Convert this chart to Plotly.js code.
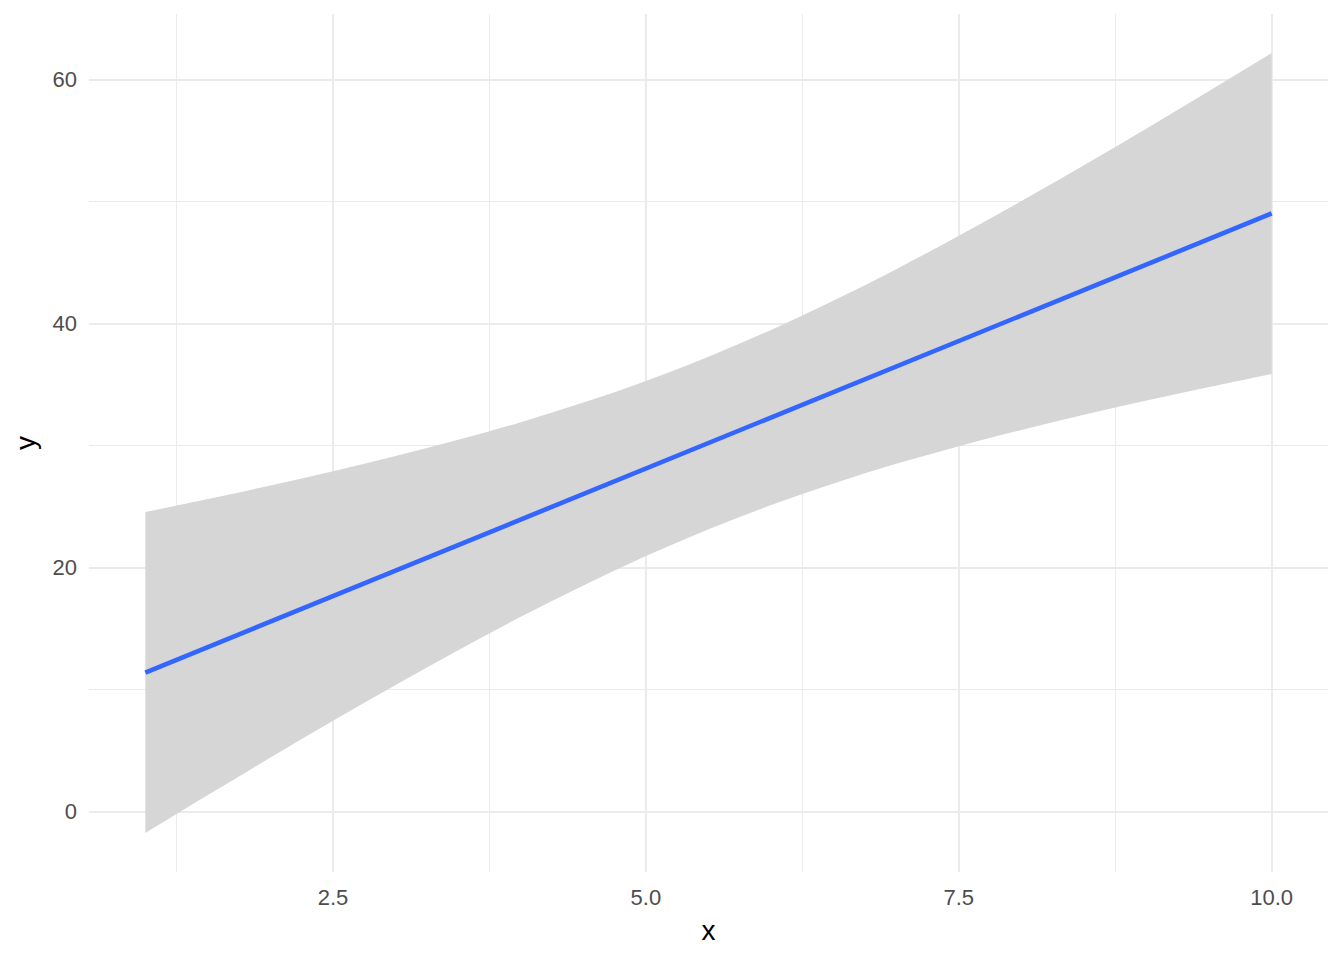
<!DOCTYPE html>
<html>
<head>
<meta charset="utf-8">
<script src="https://cdn.plot.ly/plotly-3.0.1.min.js"></script>
<style>
  html, body { margin: 0; padding: 0; background: #ffffff; }
  #chart { width: 1344px; height: 960px; }
</style>
</head>
<body>
<div id="chart"></div>
<script>
// fitted line and confidence band
const xs = [1, 1.5, 2, 2.5, 3, 3.5, 4, 4.5, 5, 5.5, 6, 6.5, 7, 7.5, 8, 8.5, 9, 9.5, 10];
const fit = [11.40, 13.49, 15.58, 17.67, 19.76, 21.85, 23.94, 26.03, 28.12, 30.21,
             32.30, 34.39, 36.48, 38.57, 40.66, 42.75, 44.84, 46.93, 49.02];
const lower = [-1.75, 1.36, 4.43, 7.44, 10.38, 13.23, 15.96, 18.54, 20.94, 23.14,
               25.12, 26.90, 28.50, 29.95, 31.28, 32.52, 33.69, 34.80, 35.87];
const upper = [24.55, 25.62, 26.73, 27.90, 29.14, 30.47, 31.92, 33.52, 35.30, 37.28,
               39.48, 41.88, 44.46, 47.19, 50.04, 52.98, 55.99, 59.06, 62.17];

const xTicks = [2.5, 5.0, 7.5, 10.0];
const xTickText = ["2.5", "5.0", "7.5", "10.0"];
const yTicks = [0, 20, 40, 60];

const traces = [
  {
    x: xs, y: lower, type: 'scatter', mode: 'lines',
    line: {width: 0, color: 'rgba(0,0,0,0)', shape: 'spline'},
    showlegend: false, hoverinfo: 'skip'
  },
  {
    x: xs, y: upper, type: 'scatter', mode: 'lines',
    fill: 'tonexty', fillcolor: '#D6D6D6',
    line: {width: 0, color: 'rgba(0,0,0,0)', shape: 'spline'},
    showlegend: false, hoverinfo: 'skip'
  },
  {
    x: xs, y: fit, type: 'scatter', mode: 'lines',
    line: {color: '#3366FF', width: 4.6},
    showlegend: false
  }
];

const layout = {
  width: 1344, height: 960,
  paper_bgcolor: '#ffffff', plot_bgcolor: '#ffffff',
  margin: {l: 89, r: 16, t: 14, b: 88},
  font: {family: 'Liberation Sans, Arial, sans-serif', color: '#4D4D4D', size: 22},
  xaxis: {
    range: [0.55, 10.45],
    tickvals: xTicks, ticktext: xTickText,
    showgrid: true, gridcolor: '#EBEBEB', gridwidth: 2,
    minor: {dtick: 2.5, tick0: 1.25, showgrid: true, gridcolor: '#EBEBEB', gridwidth: 1},
    zeroline: false, showline: false, ticks: '',
    tickfont: {size: 22, color: '#4D4D4D'},
    ticklabelstandoff: 10,
    title: {text: 'x', font: {size: 28, color: '#000000'}, standoff: 11}
  },
  yaxis: {
    range: [-4.95, 65.37],
    tickvals: yTicks,
    showgrid: true, gridcolor: '#EBEBEB', gridwidth: 2,
    minor: {dtick: 20, tick0: 10, showgrid: true, gridcolor: '#EBEBEB', gridwidth: 1},
    zeroline: false, showline: false, ticks: '',
    tickfont: {size: 22, color: '#4D4D4D'},
    ticklabelstandoff: 11,
    title: {text: 'y', font: {size: 28, color: '#000000'}, standoff: 8}
  }
};

Plotly.newPlot('chart', traces, layout, {displayModeBar: false, staticPlot: true});
</script>
</body>
</html>
